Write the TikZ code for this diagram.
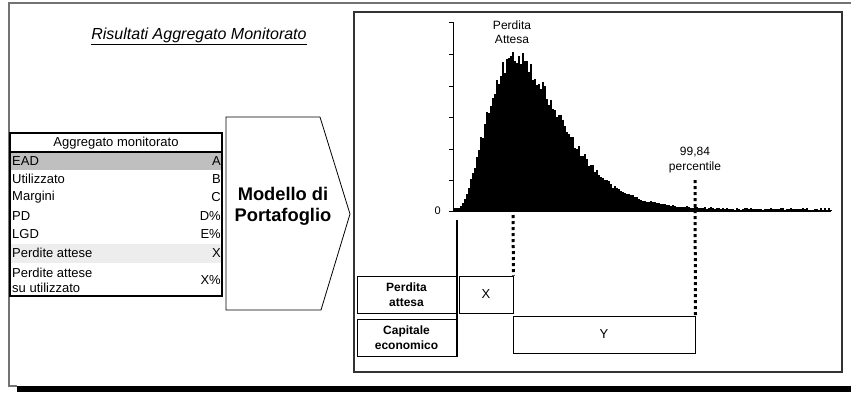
\documentclass[tikz,border=0pt]{standalone}
\usepackage{fontspec}
\setmainfont{Liberation Sans}
\usetikzlibrary{calc}
\tikzset{
  rowtxt/.style={anchor=west, inner sep=0pt, align=left, font=\fontsize{13}{15}\selectfont},
  valtxt/.style={anchor=east, inner sep=0pt, font=\fontsize{13}{15}\selectfont},
  lblbox/.style={draw, line width=0.9pt, minimum height=37pt, align=center, inner sep=1pt, font=\bfseries\fontsize{12}{14.5}\selectfont},
  valbox/.style={draw, line width=0.9pt, minimum height=37pt, inner sep=1pt, font=\fontsize{13}{15}\selectfont},
  chartlbl/.style={align=center, inner sep=0pt, font=\fontsize{12}{14.5}\selectfont},
  dotline/.style={line width=3pt, dash pattern=on 3pt off 3pt},
}

\begin{document}
\begin{tikzpicture}[x=1pt, y=-1pt]
			%%%%% START %%%%%
			\useasboundingbox (0,0) rectangle (851,392);
			
			% outer frame
			\draw[line width=1.5pt, black!55] (851,3) -- (9,3) -- (9,386) -- (17,386);
			\fill[black] (17,385.5) rectangle (851,392);
			
			\node[inner sep=0pt, font=\itshape\fontsize{16}{18}\selectfont] (title) at (199,36) {\underline{Risultati Aggregato Monitorato}};
			
			% table
			\fill[black!25] (10,152) rectangle (222,170);
			\fill[black!7] (10,244) rectangle (222,263);
			\draw[line width=2pt] (10,133) rectangle (222,296);
			\draw[line width=1.5pt] (10,152) -- (222,152);
			\node[inner sep=0pt, font=\fontsize{13}{15}\selectfont] (thead) at (116,143) {Aggregato monitorato};
			\foreach \yy/\nm/\vl [count=\i] in {161/EAD/A, 179/Utilizzato/B, 197/Margini/C, 216/PD/D\%, 234/LGD/E\%, 253/Perdite attese/X} {
				\node[rowtxt] (row\i) at (12,\yy) {\nm};
				\node[valtxt] (val\i) at (221,\yy) {\vl};
			}
			\node[rowtxt] (row7) at (12,280) {Perdite attese\\su utilizzato};
			\node[valtxt] (val7) at (221,280) {X\%};
			
			% arrow
			\draw[line width=0.8pt] (226,117) -- (320,117) -- (350,214) -- (321,310) -- (226,310) -- cycle;
			\node[align=center, inner sep=0pt, font=\bfseries\fontsize{18.3}{21}\selectfont] (model) at (283,206) {Modello di\\Portafoglio};
			
			% right panel
			\draw[line width=1.5pt, black!80] (354,12) rectangle (842,372);
			
			% histogram
			\pgfmathsetseed{11}
			\foreach \xx in {454,456,...,830} {
				\pgfmathsetmacro{\ev}{max(3*ln((\xx-453)/62)-(\xx-515)/20.7,-9)}
				\pgfmathsetmacro{\hv}{152*exp(\ev)*(0.93+0.14*rnd)+1+2*rnd}
				\fill[black] (\xx,211) rectangle ++(2,-\hv);
			}
			\draw[line width=0.8pt] (453,22) -- (453,211) -- (831,211);
			\foreach \ty in {22,54,86,117,149,180,211}
				\draw[line width=0.8pt] (449,\ty) -- (453,\ty);
			\node[anchor=east, inner sep=0pt, font=\fontsize{11}{13}\selectfont] (zero) at (441,211) {0};
			
			\node[chartlbl] (palbl) at (512,32) {Perdita\\Attesa};
			\node[chartlbl] (pctlbl) at (695,160) {99,84\\percentile};
			
			% boxes
			\draw[line width=1.2pt] (457,220) -- (457,357);
			\node[lblbox, minimum width=99pt] (pabox) at (406.5,294.5) {Perdita\\attesa};
			\node[lblbox, minimum width=99pt] (cebox) at (406.5,337.5) {Capitale\\economico};
			\node[valbox, minimum width=54pt] (xbox) at (486,294.5) {X};
			\node[valbox, minimum width=182pt] (ybox) at (604,334.5) {Y};
			
			\coordinate (pamark) at (513,215);
			\coordinate (pctmark) at (695,180);
			\draw[dotline] (pamark) -- (xbox.north east);
			\draw[dotline] (pctmark) -- (ybox.north east);
			
			%%%%% END %%%%%
		\end{tikzpicture}
\end{document}
